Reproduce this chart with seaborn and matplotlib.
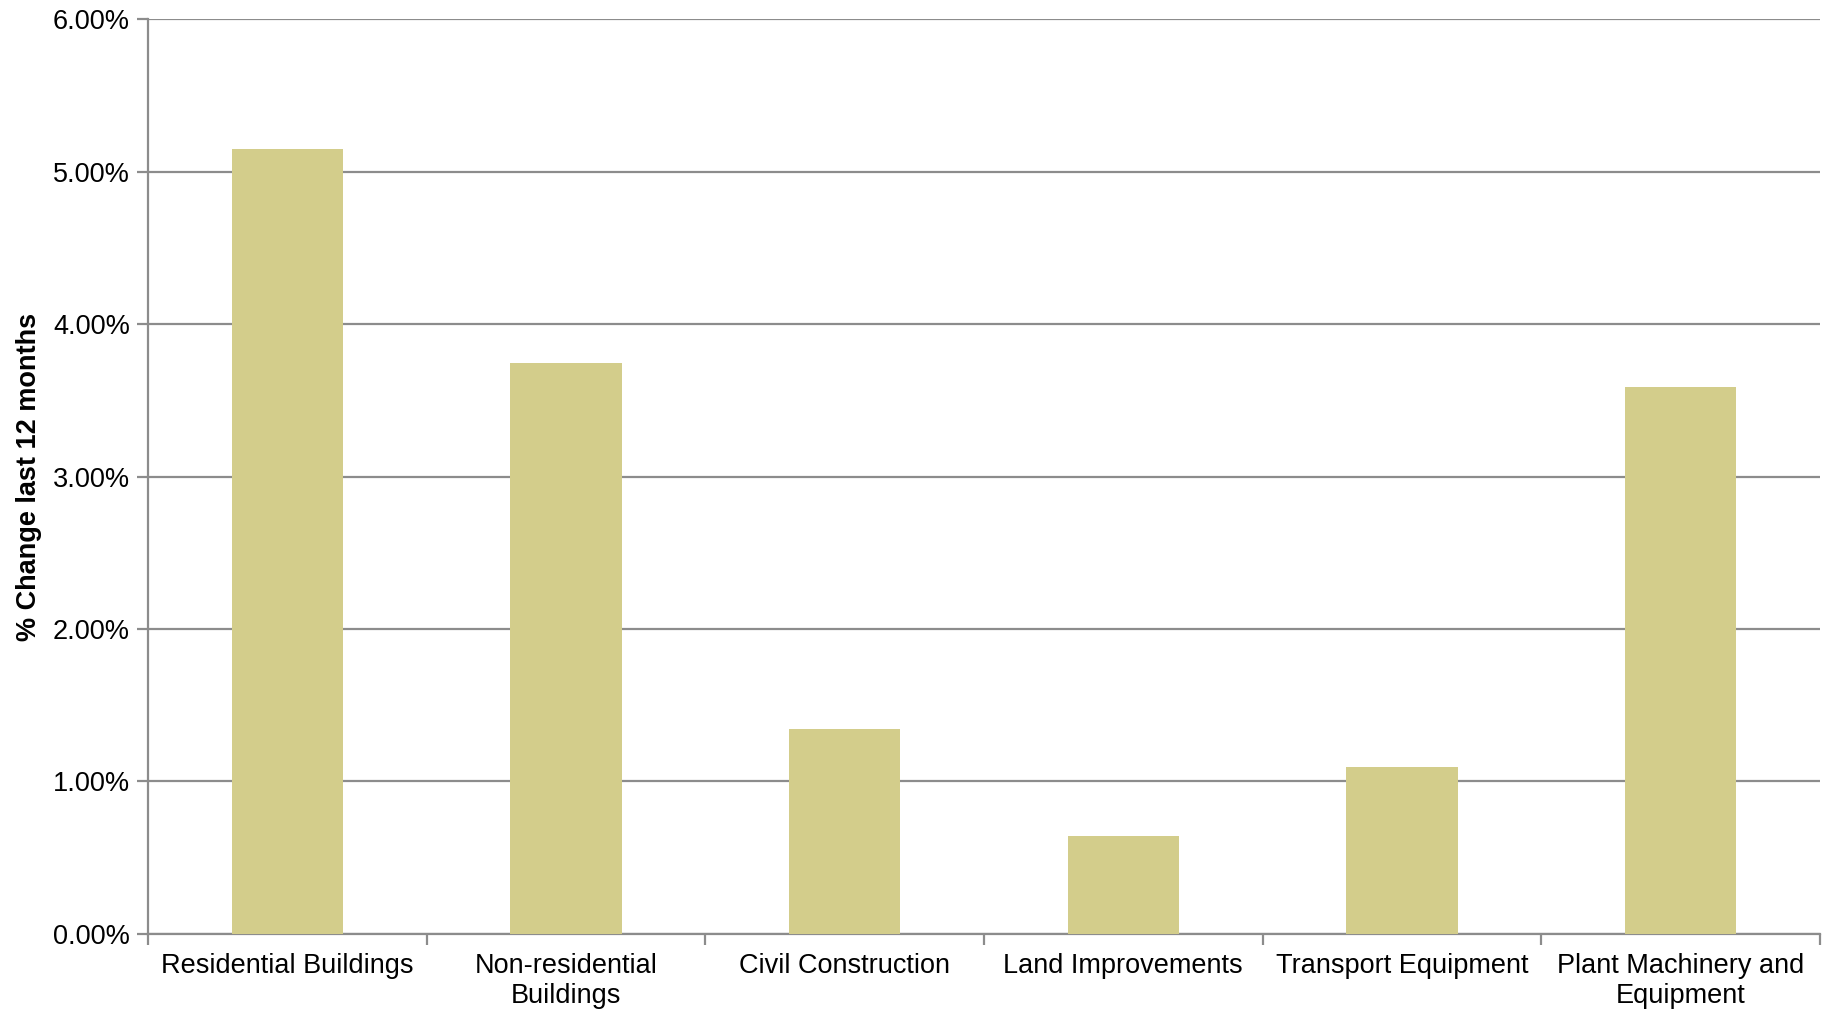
import matplotlib
matplotlib.use("Agg")
import matplotlib.pyplot as plt
import matplotlib.ticker as mticker
import seaborn as sns
import pandas as pd
import numpy as np

categories = ["Residential Buildings", "Non-residential\nBuildings", "Civil Construction",
              "Land Improvements", "Transport Equipment", "Plant Machinery and\nEquipment"]
values = [5.15, 3.745, 1.345, 0.64, 1.095, 3.59]
y_ticks = [0, 1, 2, 3, 4, 5, 6]
y_label = "% Change last 12 months"

sns.set_theme(style="white")
plt.rcParams['font.family'] = ['Liberation Sans', 'DejaVu Sans']

df = pd.DataFrame({"cat": categories, "val": values})

fig = plt.figure(figsize=(18.29, 10.16), dpi=100)
ax = fig.add_axes([0.081, 0.081, 0.914, 0.9])

sns.barplot(data=df, x="cat", y="val", color="#D3CD8B", width=0.4, ax=ax,
            saturation=1, edgecolor="none", zorder=3)

grid_c = "#8C8C8C"
fs = 19.5
ax.set_ylim(0, 6)
ax.set_xlim(-0.5, len(categories) - 0.5)
ax.set_yticks(y_ticks)
ax.yaxis.set_major_formatter(mticker.FuncFormatter(lambda v, p: f"{v:.2f}%"))
ax.yaxis.grid(True, color=grid_c, linewidth=1.6, zorder=0)
ax.set_axisbelow(True)

for s in ["top", "right"]:
    ax.spines[s].set_visible(False)
for s in ["left", "bottom"]:
    ax.spines[s].set_color(grid_c)
    ax.spines[s].set_linewidth(1.6)

ax.tick_params(axis="y", which="major", left=True, length=8, width=1.6, color=grid_c,
               labelsize=fs, labelcolor="black", pad=5)
ax.tick_params(axis="x", which="major", bottom=False, length=0, labelsize=fs,
               labelcolor="black", pad=14)
ax.set_xticks(np.arange(-0.5, len(categories)), minor=True)
ax.tick_params(axis="x", which="minor", bottom=True, length=8, width=1.6, color=grid_c)

ax.set_xlabel("")
ax.set_ylabel(y_label, fontsize=fs, fontweight="bold", color="black", labelpad=8)
for t in ax.get_xticklabels():
    t.set_linespacing(1.2)

fig.savefig("out.png", dpi=100, facecolor="white")
